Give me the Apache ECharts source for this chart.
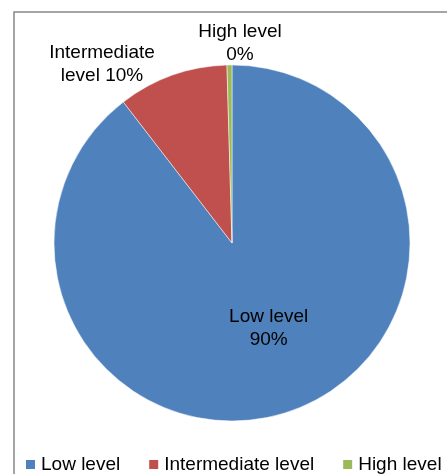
<!DOCTYPE html>
<html>
<head>
<meta charset="utf-8">
<script src="https://cdn.jsdelivr.net/npm/echarts@6/dist/echarts.min.js"></script>
<style>
  html, body { margin: 0; padding: 0; background: #fff; }
  #chart { width: 447px; height: 474px; }
</style>
</head>
<body>
<div id="chart"></div>
<script>
// 数据
var categories = ['Low level', 'Intermediate level', 'High level'];
var labelNames = ['Low level', 'Intermediate\nlevel', 'High level'];
var values = [89.55, 10, 0.45];
var colors = ['#4F81BD', '#C0504D', '#9BBB59'];

var chart = echarts.init(document.getElementById('chart'));

var pieData = categories.map(function (name, i) {
  var item = { name: name, value: values[i], itemStyle: { color: colors[i] } };
  if (i === 0) {
    item.label = { position: 'inside' };
  }
  return item;
});

var option = {
  backgroundColor: '#fff',
  animation: false,
  textStyle: { fontFamily: 'Liberation Sans, Arial, sans-serif' },
  // 外框
  graphic: [{
    type: 'rect',
    shape: { x: 14, y: 12, width: 460, height: 480 },
    style: { fill: 'none', stroke: '#888', lineWidth: 1.5 },
    silent: true
  }],
  legend: {
    data: categories,
    left: 19,
    top: 450,
    width: 600,
    icon: 'rect',
    itemWidth: 11,
    itemHeight: 11,
    itemGap: 27,
    textStyle: { fontSize: 19, color: '#000', fontFamily: 'Liberation Sans, Arial, sans-serif' }
  },
  series: [{
    type: 'pie',
    center: [232, 243],
    radius: 178,
    startAngle: 90,
    clockwise: true,
    data: pieData,
    itemStyle: { borderColor: '#fff', borderWidth: 0.5 },
    label: {
      show: true,
      position: 'outside',
      fontSize: 19,
      lineHeight: 23,
      color: '#000',
      align: 'center',
      overflow: 'none',
      fontFamily: 'Liberation Sans, Arial, sans-serif',
      formatter: function (p) {
        var n = labelNames[p.dataIndex];
        var pct = Math.round(p.percent);
        if (p.dataIndex === 1) return n + ' ' + pct + '%';
        return n + '\n' + pct + '%';
      }
    },
    labelLine: { show: false, length: 10, length2: 0 },
    labelLayout: function (params) {
      if (params.dataIndex === 0) return { dx: 7, dy: -2 };
      var pos = [[0, 0], [102, 64], [240, 43]][params.dataIndex];
      return { x: pos[0], y: pos[1], align: 'center', verticalAlign: 'middle' };
    }
  }]
};

chart.setOption(option);
</script>
</body>
</html>
